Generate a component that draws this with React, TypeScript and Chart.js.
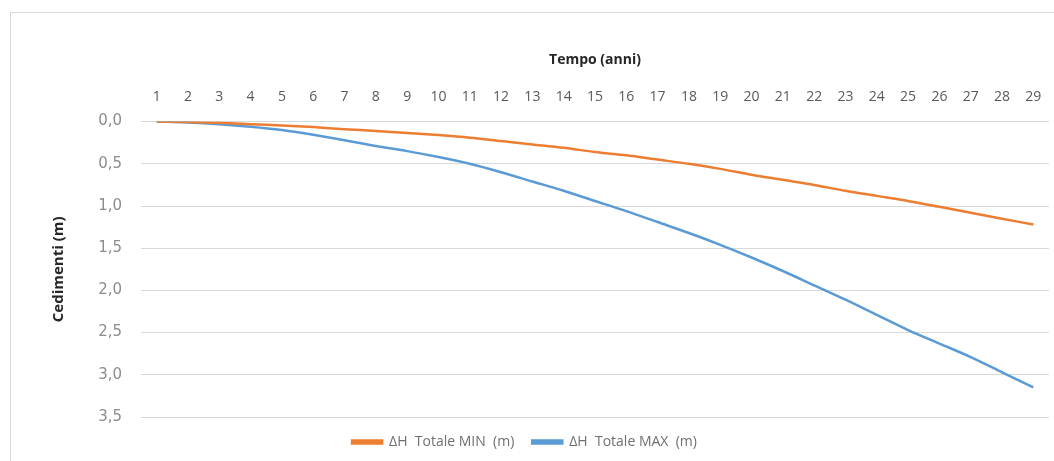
import React, { useEffect, useRef } from "react";
import { Chart, registerables } from "chart.js";

Chart.register(...registerables);

const years: string[] = [
  "1", "2", "3", "4", "5", "6", "7", "8", "9", "10",
  "11", "12", "13", "14", "15", "16", "17", "18", "19", "20",
  "21", "22", "23", "24", "25", "26", "27", "28", "29",
];

const minValues: number[] = [
  0, 0.005, 0.015, 0.03, 0.045, 0.065, 0.09, 0.11, 0.135, 0.16,
  0.19, 0.23, 0.27, 0.31, 0.36, 0.4, 0.45, 0.5, 0.56, 0.63,
  0.69, 0.75, 0.82, 0.88, 0.94, 1.01, 1.08, 1.15, 1.22,
];

const maxValues: number[] = [
  0, 0.01, 0.03, 0.06, 0.1, 0.155, 0.22, 0.29, 0.35, 0.42,
  0.5, 0.6, 0.71, 0.82, 0.94, 1.06, 1.19, 1.32, 1.46, 1.61,
  1.77, 1.94, 2.11, 2.29, 2.47, 2.63, 2.79, 2.97, 3.15,
];

const seriesLabels: string[] = ["ΔH  Totale MIN  (m)", "ΔH  Totale MAX  (m)"];
const xTitle = "Tempo (anni)";
const yTitle = "Cedimenti (m)";

const FONT = "'Open Sans', sans-serif";

export default function App() {
  const ref = useRef<HTMLCanvasElement | null>(null);

  useEffect(() => {
    if (!ref.current) return;
    const chart = new Chart(ref.current, {
      type: "line",
      data: {
        labels: years,
        datasets: [
          {
            label: seriesLabels[0],
            data: minValues,
            borderColor: "#ED7D31",
            backgroundColor: "#ED7D31",
            borderWidth: 2.5,
            pointRadius: 0,
            tension: 0.3,
          },
          {
            label: seriesLabels[1],
            data: maxValues,
            borderColor: "#5B9BD5",
            backgroundColor: "#5B9BD5",
            borderWidth: 2.5,
            pointRadius: 0,
            tension: 0.3,
          },
        ],
      },
      options: {
        responsive: false,
        animation: false,
        layout: { padding: { left: 0, top: 52, right: 5, bottom: 2 } },
        plugins: {
          legend: {
            position: "bottom",
            labels: {
              boxWidth: 30,
              boxHeight: 3,
              color: "#707070",
              font: { family: FONT, size: 14 },
              padding: 18,
            },
          },
          tooltip: { enabled: false },
        },
        scales: {
          x: {
            position: "top",
            offset: true,
            grid: { display: false, drawTicks: false },
            border: { display: false },
            ticks: {
              autoSkip: false,
              maxRotation: 0,
              padding: 16,
              color: "#595959",
              font: { family: FONT, size: 14 },
            },
            title: {
              display: true,
              text: xTitle,
              color: "#262626",
              font: { family: FONT, size: 14, weight: "bold" },
              padding: { top: 0, bottom: 4 },
            },
            afterFit: (s: any) => {
              s.paddingLeft = 0;
              s.paddingRight = 0;
            },
          },
          y: {
            reverse: true,
            min: 0,
            max: 3.5,
            grid: { color: "#d9d9d9", drawTicks: false },
            border: { display: false },
            ticks: {
              stepSize: 0.5,
              padding: 19,
              color: "#8c8c8c",
              font: { family: "'DejaVu Sans', sans-serif", size: 15 },
              callback: (v: any) => Number(v).toFixed(1).replace(".", ","),
            },
            title: {
              display: true,
              text: yTitle,
              color: "#262626",
              font: { family: FONT, size: 15, weight: "bold" },
              padding: { top: 50, bottom: 0 },
            },
            afterFit: (s: any) => {
              s.width = 141;
            },
          },
        },
      },
    });
    return () => chart.destroy();
  }, []);

  return (
    <div style={{ position: "absolute", left: 0, top: 0, width: 1054, height: 461, overflow: "hidden", background: "#fff" }}>
      <div
        style={{
          position: "absolute",
          left: 10,
          top: 12,
          width: 1100,
          height: 500,
          border: "1px solid #d9d9d9",
        }}
      />
      <canvas ref={ref} width={1054} height={461} style={{ position: "absolute", left: 0, top: 0 }} />
    </div>
  );
}
